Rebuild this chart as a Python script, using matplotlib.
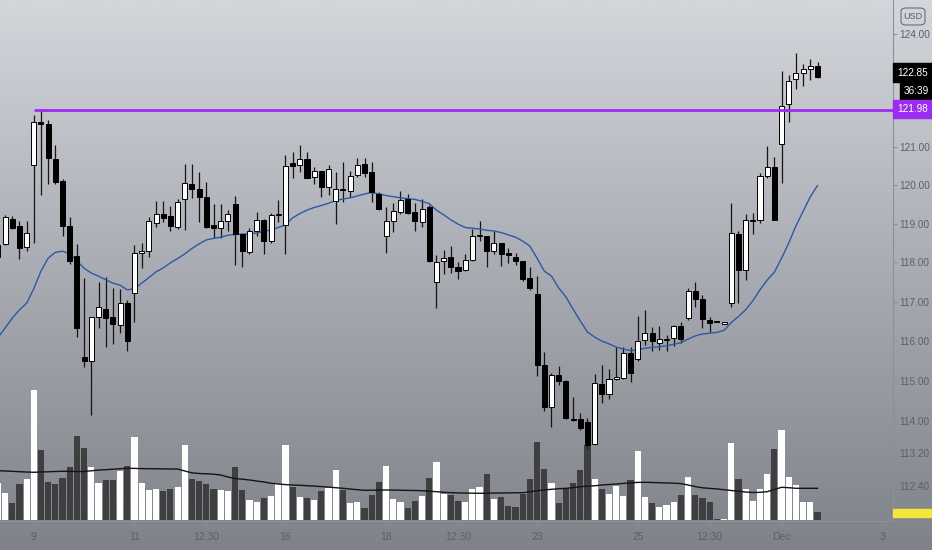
import numpy as np
import matplotlib
matplotlib.use('Agg')
import matplotlib.pyplot as plt
from matplotlib.colors import LinearSegmentedColormap
from matplotlib.patches import Rectangle, FancyBboxPatch
from matplotlib.ticker import FixedLocator, FuncFormatter, NullLocator, NullFormatter

# candles, index -1 is the partly hidden bar at the left edge
opens = [118.14, 118.48, 119.13, 118.93, 118.39, 120.53, 121.67, 121.60, 120.69, 120.10,
         118.94, 118.16, 115.59, 115.49, 116.60, 116.81, 116.60, 116.40, 116.97, 117.23,
         118.25, 118.30, 119.03, 119.24, 119.19, 118.92, 119.65, 120.03, 119.91, 119.68,
         118.97, 118.90, 119.07, 119.51, 118.73, 118.28, 118.81, 119.09, 118.54, 119.22,
         118.96, 120.57, 120.53, 120.69, 120.22, 120.37, 119.95, 119.58, 119.90, 119.85,
         120.26, 120.55, 120.35, 119.78, 118.69, 119.06, 119.30, 119.63, 119.30, 119.04,
         119.43, 117.50, 118.04, 118.15, 117.89, 117.81, 118.06, 118.67, 118.68, 118.30,
         118.51, 118.24, 118.15, 118.04, 117.60, 117.19, 115.41, 114.35, 115.14, 115.00,
         114.05, 114.04, 113.97, 113.43, 114.93, 114.68, 115.06, 115.08, 115.69, 115.55,
         116.02, 116.20, 115.94, 116.03, 116.07, 116.37, 116.59, 117.26, 117.07, 116.54,
         116.50, 116.44, 116.96, 118.73, 117.81, 119.07, 119.09, 120.24, 120.48, 121.07,
         122.13, 122.80, 122.95, 123.07, 123.15]
highs = [118.50, 119.22, 119.20, 119.07, 119.07, 121.85, 121.98, 121.71, 121.05, 120.15,
         119.16, 118.47, 117.60, 116.61, 117.51, 117.62, 117.34, 117.32, 117.04, 118.45,
         118.51, 119.16, 119.58, 119.58, 119.46, 119.65, 120.55, 120.55, 120.34, 120.08,
         119.51, 119.51, 119.36, 119.72, 118.73, 118.88, 119.30, 119.13, 119.28, 119.61,
         120.79, 120.88, 121.05, 120.88, 120.48, 120.37, 120.53, 120.35, 120.60, 120.37,
         120.71, 120.71, 120.60, 119.82, 119.42, 119.54, 119.84, 119.78, 119.54, 119.65,
         119.48, 118.18, 118.32, 118.42, 118.02, 118.21, 118.86, 119.07, 118.68, 118.81,
         118.51, 118.37, 118.24, 118.04, 117.89, 117.66, 115.73, 115.20, 115.38, 115.02,
         114.60, 114.20, 114.07, 115.18, 115.39, 115.31, 115.86, 115.86, 115.86, 116.63,
         116.79, 116.36, 116.37, 116.15, 116.41, 116.49, 117.34, 117.51, 117.17, 116.61,
         116.51, 116.46, 119.54, 118.81, 119.26, 119.28, 120.31, 121.03, 120.73, 123.02,
         122.91, 123.50, 123.20, 123.34, 123.25]
lows = [118.05, 118.45, 118.85, 118.10, 118.30, 118.49, 119.74, 120.04, 120.03, 118.67,
        117.96, 116.10, 115.35, 114.15, 116.34, 115.86, 115.92, 116.20, 115.76, 116.49,
        117.85, 118.13, 118.92, 119.04, 118.82, 118.86, 118.84, 119.67, 119.05, 118.90,
        118.62, 118.62, 118.82, 117.94, 117.89, 118.22, 118.67, 118.22, 118.49, 119.05,
        118.23, 120.18, 120.35, 120.20, 120.03, 119.69, 119.74, 118.98, 119.56, 119.69,
        120.22, 120.22, 119.56, 119.35, 118.25, 118.78, 119.26, 119.26, 118.82, 118.92,
        118.00, 116.83, 117.70, 117.74, 117.58, 117.79, 118.04, 118.56, 117.88, 118.22,
        117.92, 117.98, 117.93, 117.53, 117.30, 115.12, 114.25, 113.85, 114.90, 114.05,
        114.01, 113.78, 113.30, 113.41, 114.45, 114.55, 115.02, 115.06, 114.98, 115.50,
        115.90, 115.74, 115.78, 115.76, 115.88, 115.94, 116.53, 116.87, 116.33, 116.24,
        116.47, 116.43, 116.87, 116.96, 117.55, 118.73, 119.03, 120.20, 119.09, 120.06,
        121.67, 122.53, 122.62, 122.78, 122.82]
closes = [118.45, 119.18, 118.90, 118.38, 118.75, 121.67, 121.60, 120.70, 120.07, 118.95,
          118.05, 116.33, 115.49, 116.60, 116.86, 116.59, 116.43, 116.96, 115.99, 118.25,
          118.29, 119.06, 119.26, 119.14, 118.94, 119.56, 120.05, 119.89, 119.68, 118.92,
          118.90, 119.07, 119.26, 118.73, 118.30, 118.82, 119.09, 118.54, 119.22, 119.26,
          120.51, 120.49, 120.69, 120.20, 120.37, 119.94, 120.42, 119.89, 119.87, 120.24,
          120.53, 120.33, 119.82, 119.39, 119.07, 119.33, 119.61, 119.28, 119.06, 119.39,
          118.04, 118.00, 118.12, 117.89, 117.79, 118.06, 118.68, 118.70, 118.30, 118.49,
          118.22, 118.18, 118.04, 117.58, 117.34, 115.41, 114.35, 115.14, 115.00, 114.07,
          114.03, 113.83, 113.41, 114.95, 114.68, 115.04, 115.08, 115.69, 115.19, 115.99,
          116.20, 115.99, 116.05, 116.05, 116.37, 116.05, 117.26, 117.06, 116.55, 116.45,
          116.48, 116.45, 118.77, 117.81, 119.09, 119.10, 120.24, 120.47, 119.09, 122.09,
          122.76, 122.96, 123.06, 123.15, 122.85]
# volume in thousands
volumes = [367, 267, 173, 360, 413, 1300, 700, 380, 360, 420,
           533, 840, 720, 533, 373, 400, 400, 493, 540, 833,
           373, 300, 313, 290, 310, 333, 753, 413, 390, 360,
           310, 300, 290, 533, 300, 200, 177, 217, 240, 357,
           753, 330, 233, 217, 200, 290, 323, 500, 300, 167,
           177, 123, 247, 380, 540, 210, 177, 123, 193, 240,
           423, 580, 257, 247, 193, 177, 310, 333, 463, 210,
           233, 143, 133, 257, 410, 783, 507, 373, 167, 317,
           370, 500, 750, 413, 307, 260, 340, 240, 400, 693,
           230, 173, 127, 147, 177, 247, 430, 247, 217, 177,
           10, 10, 773, 413, 310, 190, 310, 463, 710, 900,
           430, 350, 177, 177, 80]
price_ma = [116.08, 116.33, 116.58, 116.79, 116.96, 117.33, 117.78, 118.11, 118.26, 118.29,
            118.22, 118.04, 117.85, 117.73, 117.65, 117.56, 117.47, 117.42, 117.30, 117.33,
            117.47, 117.61, 117.76, 117.86, 117.99, 118.10, 118.22, 118.36, 118.48, 118.58,
            118.62, 118.65, 118.70, 118.72, 118.73, 118.74, 118.76, 118.80, 118.84, 118.90,
            118.97, 119.15, 119.26, 119.35, 119.42, 119.47, 119.53, 119.60, 119.64, 119.67,
            119.72, 119.77, 119.81, 119.77, 119.73, 119.70, 119.67, 119.65, 119.63, 119.58,
            119.52, 119.35, 119.23, 119.10, 118.99, 118.90, 118.88, 118.86, 118.83, 118.81,
            118.77, 118.71, 118.65, 118.55, 118.42, 118.11, 117.78, 117.65, 117.35, 117.12,
            116.81, 116.51, 116.23, 116.10, 116.00, 115.93, 115.85, 115.80, 115.76, 115.78,
            115.82, 115.84, 115.86, 115.88, 115.92, 115.96, 116.05, 116.13, 116.18, 116.20,
            116.22, 116.27, 116.47, 116.62, 116.79, 117.02, 117.30, 117.55, 117.75, 118.11,
            118.50, 118.94, 119.32, 119.70, 119.99]
volume_ma = [493, 490, 487, 483, 480, 477, 480, 482, 485, 487,
             486, 484, 486, 492, 499, 503, 508, 513, 517, 516,
             514, 513, 512, 511, 510, 510, 490, 471, 465, 462,
             458, 450, 430, 415, 408, 400, 390, 380, 368, 360,
             354, 350, 347, 343, 339, 334, 329, 323, 317, 310,
             303, 297, 298, 299, 300, 299, 298, 296, 295, 293,
             288, 283, 277, 273, 271, 269, 268, 267, 268, 269,
             270, 271, 272, 273, 282, 292, 301, 307, 313, 316,
             324, 333, 338, 342, 350, 355, 360, 366, 371, 376,
             377, 375, 373, 370, 368, 364, 350, 334, 322, 316,
             311, 303, 295, 288, 280, 275, 277, 283, 305, 327,
             323, 317, 317, 317, 317]

time_ticks = [4, 18, 28, 39, 53, 63, 74, 88, 98, 108, 122]
time_labels = ['9', '11', '12:30', '16', '18', '12:30', '23', '25', '12:30', 'Dec', '3']
# 123.00 and 122.00 sit under the price labels, so they are left out
price_ticks = [124.0, 121.0, 120.0, 119.0, 118.0, 117.0, 116.0, 115.0, 114.0, 113.2, 112.4]
level = 121.98
last_price = 122.85
countdown = '36:39'

W, H = 932, 550
FONT = ['Liberation Sans', 'DejaVu Sans']
GREY = '#5c5f6a'
AXIS = '#8d9098'

fig = plt.figure(figsize=(W / 100, H / 100), dpi=100)

# background gradient
bg = fig.add_axes([0, 0, 1, 1], zorder=-10)
cmap = LinearSegmentedColormap.from_list('bg', ['#d4d6dc', '#a9abb2', '#80828a'])
bg.imshow(np.linspace(0, 1, 256)[:, None], aspect='auto', cmap=cmap, extent=[0, 1, 0, 1])
bg.axis('off')

x = np.arange(len(opens)) - 1
o = np.array(opens)
c = np.array(closes)
up = c >= o

rect = [0, 29 / H, 893 / W, 521 / H]

vax = fig.add_axes(rect)
vax.patch.set_visible(False)
vax.bar(x, volumes, width=0.86, color=np.where(up, '#ffffff', '#3f3f42'), linewidth=0)
vax.plot(x, volume_ma, color='#141414', lw=1.0)
vax.set_ylim(-10, 5200)
vax.set_xlim(-0.7, 123.5)
vax.axis('off')

ax = fig.add_axes(rect)
ax.patch.set_visible(False)
ax.set_yscale('log')
ax.set_ylim(111.55, 124.93)
ax.set_xlim(-0.7, 123.5)

ax.vlines(x, lows, highs, color='#151515', lw=0.9, zorder=2)
bottoms = np.minimum(o, c)
heights = np.maximum(np.abs(c - o), 0.03)
ax.bar(x, heights, bottom=bottoms, width=0.7, color=np.where(up, '#ffffff', '#000000'),
       edgecolor='#000000', linewidth=0.7, zorder=3)
ax.plot(x, price_ma, color='#2d58a5', lw=1.0, zorder=2.5)
ax.hlines(level, 4, 123.5, color='#9b2cf0', lw=2.0, zorder=4)

for s in ['top', 'left']:
    ax.spines[s].set_visible(False)
ax.spines['right'].set_color(AXIS)
ax.spines['bottom'].set_color(AXIS)
ax.spines['right'].set_linewidth(0.8)
ax.spines['bottom'].set_linewidth(0.8)

ax.yaxis.tick_right()
ax.yaxis.set_major_locator(FixedLocator(price_ticks))
ax.yaxis.set_major_formatter(FuncFormatter(lambda v, p: f'{v:.2f}'))
ax.yaxis.set_minor_locator(NullLocator())
ax.yaxis.set_minor_formatter(NullFormatter())
ax.set_xticks(time_ticks)
ax.set_xticklabels(time_labels)
ax.tick_params(axis='y', direction='out', length=3, width=0.8, color=AXIS,
               labelcolor=GREY, labelsize=7.2, pad=1.5)
ax.tick_params(axis='x', direction='out', length=3, width=0.8, color=AXIS,
               labelcolor=GREY, labelsize=7.5, pad=5)
for lab in ax.get_xticklabels() + ax.get_yticklabels():
    lab.set_family(FONT)


def px_box(x0, y0, x1, y1, color):
    fig.patches.append(Rectangle((x0 / W, 1 - y1 / H), (x1 - x0) / W, (y1 - y0) / H,
                                 transform=fig.transFigure, color=color, zorder=20))


def px_text(xc, yc, s, color):
    fig.text(xc / W, 1 - yc / H, s, color=color, fontsize=7.2, ha='center', va='center',
             family=FONT, zorder=21)


# price scale labels
px_box(893, 63, 932, 82, '#000000')
px_text(913, 72.5, f'{last_price:.2f}', '#ffffff')
px_box(900, 83, 932, 100, '#000000')
px_text(916, 91.5, countdown, '#ffffff')
px_box(893, 100, 932, 118, '#9b2cf0')
px_text(913, 109, f'{level:.2f}', '#ffffff')
px_box(893, 509, 932, 517, '#f4e63a')

usd = FancyBboxPatch((901 / W, 1 - 25 / H), 24 / W, 17 / H,
                     boxstyle='round,pad=0,rounding_size=0.006',
                     transform=fig.transFigure, facecolor='none', edgecolor='#6a6d77',
                     lw=0.8, zorder=20)
fig.patches.append(usd)
fig.text(913 / W, 1 - 16.5 / H, 'USD', color='#5c5f6a', fontsize=6.5, ha='center',
         va='center', family=FONT, zorder=21)

fig.savefig('out.png', dpi=100)
